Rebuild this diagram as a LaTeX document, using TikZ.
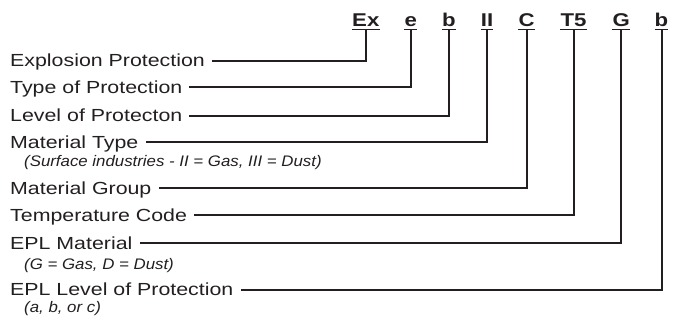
\documentclass[tikz,border=0pt]{standalone}
\usepackage{fontspec}
\newfontfamily\labfont[FakeStretch=1.22]{Liberation Sans}
\newfontfamily\notefont[FakeStretch=1.1]{Liberation Sans}
\newfontfamily\codefont[FakeStretch=1.2]{Liberation Sans}
\definecolor{ink}{RGB}{35,31,32}
\begin{document}
\begin{tikzpicture}[x=1pt,y=-1pt,
  lab/.style={anchor=base west,inner sep=0pt,font=\labfont\fontsize{17.5}{20}\selectfont,text=ink},
  note/.style={anchor=base west,inner sep=0pt,font=\notefont\itshape\fontsize{15.3}{18}\selectfont,text=ink},
  code/.style={anchor=base,inner sep=0pt,font=\codefont\bfseries\fontsize{18.5}{20}\selectfont,text=ink},
  conn/.style={draw=ink,line width=2pt},
  ul/.style={draw=ink,line width=1.4pt}]
\useasboundingbox (0,0) rectangle (681,320);

% code letters
\node[code] (c1) at (365.8,26.7) {Ex};
\node[code] (c2) at (410.7,26.7) {e};
\node[code] (c3) at (449.0,26.7) {b};
\node[code] (c4) at (487.0,26.7) {II};
\node[code] (c5) at (526.7,26.7) {C};
\node[code] (c6) at (573.5,26.7) {T5};
\node[code] (c7) at (621.2,26.7) {G};
\node[code] (c8) at (661.5,26.7) {b};
\foreach \n in {c1,c2,c3,c4,c5,c6,c7,c8}
  \draw[ul] ([yshift=-2.6pt]\n.base west) -- ([yshift=-2.6pt]\n.base east);

% labels
\node[lab] (l1) at (10,66.7) {Explosion Protection};
\node[lab] (l2) at (10,93.5) {Type of Protection};
\node[lab] (l3) at (10,122.0) {Level of Protecton};
\node[lab] (l4) at (10,148.5) {Material Type};
\node[note] (n4) at (24,166.5) {(Surface industries - II = Gas, III = Dust)};
\node[lab] (l5) at (10,194.2) {Material Group};
\node[lab] (l6) at (10,221.3) {Temperature Code};
\node[lab] (l7) at (10,249.3) {EPL Material};
\node[note] (n7) at (24,270) {(G = Gas, D = Dust)};
\node[lab] (l8) at (10,296) {EPL Level of Protection};
\node[note] (n8) at (24,313) {(a, b, or c)};

% connectors
\foreach \i in {1,...,8}
  \draw[conn] ([yshift=-2.6pt]c\i.base) |- ([xshift=7pt,yshift=6pt]l\i.base east);
\end{tikzpicture}
\end{document}
